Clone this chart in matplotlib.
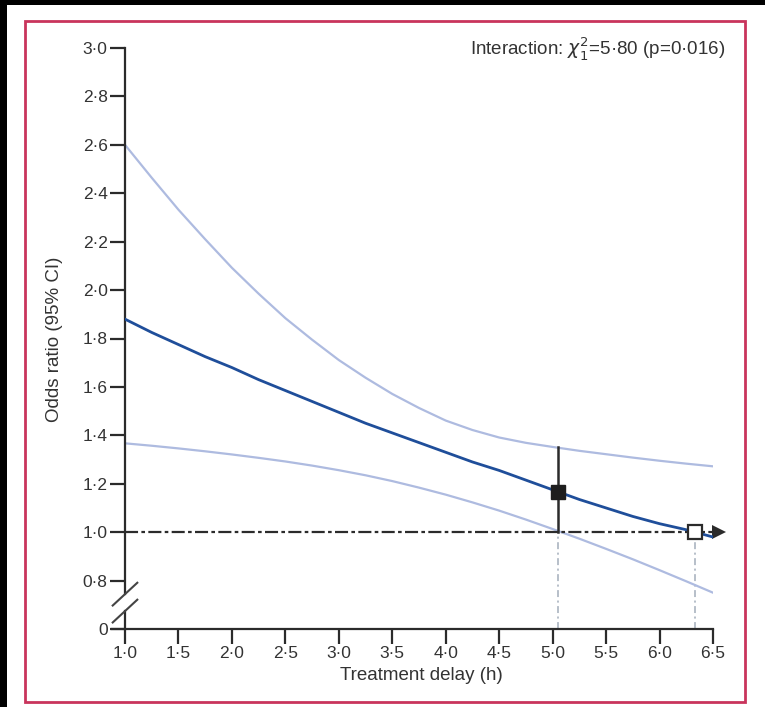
import matplotlib
matplotlib.use("Agg")
import matplotlib.pyplot as plt
import matplotlib.patches as patches

# ---------------------------------------------------------------
# Data (odds ratio vs treatment delay)
# ---------------------------------------------------------------
delay = [1.0, 1.25, 1.5, 1.75, 2.0, 2.25, 2.5, 2.75, 3.0, 3.25, 3.5, 3.75,
         4.0, 4.25, 4.5, 4.75, 5.0, 5.25, 5.5, 5.75, 6.0, 6.25, 6.5]
or_mid = [1.88, 1.825, 1.775, 1.725, 1.68, 1.63, 1.585, 1.54, 1.495, 1.45, 1.41, 1.37,
          1.33, 1.29, 1.255, 1.215, 1.175, 1.135, 1.10, 1.065, 1.035, 1.01, 0.98]
or_upper = [2.60, 2.464, 2.332, 2.21, 2.092, 1.985, 1.884, 1.795, 1.711, 1.638, 1.571, 1.513,
            1.461, 1.422, 1.391, 1.369, 1.352, 1.336, 1.322, 1.308, 1.295, 1.283, 1.272]
or_lower = [1.367, 1.357, 1.346, 1.334, 1.321, 1.307, 1.292, 1.275, 1.256, 1.235, 1.211, 1.184,
            1.155, 1.123, 1.089, 1.052, 1.013, 0.973, 0.931, 0.888, 0.843, 0.797, 0.75]

# estimate at the trial's median delay, and the point where OR crosses 1
point_x = 5.05
point_or = 1.165
point_ci = [1.0, 1.35]
cross_x = 6.33
cross_or = 1.0

# axis ticks ("0" sits where the broken axis resumes)
xticks = [1.0, 1.5, 2.0, 2.5, 3.0, 3.5, 4.0, 4.5, 5.0, 5.5, 6.0, 6.5]
xtick_labels = ["1·0", "1·5", "2·0", "2·5", "3·0", "3·5", "4·0", "4·5", "5·0", "5·5", "6·0", "6·5"]
yticks = [0.6, 0.8, 1.0, 1.2, 1.4, 1.6, 1.8, 2.0, 2.2, 2.4, 2.6, 2.8, 3.0]
ytick_labels = ["0", "0·8", "1·0", "1·2", "1·4", "1·6", "1·8", "2·0", "2·2", "2·4", "2·6", "2·8", "3·0"]

#############################
### SETTINGS
#############################
W, H = 765, 707
textColor = "#333333"
axisColor = "#2b2b2b"
ciColor = "#aebbe0"
midColor = "#1f4e9a"
borderColor = "#c9345c"
plt.rcParams["font.family"] = ["Liberation Sans", "DejaVu Sans"]
plt.rcParams["lines.scale_dashes"] = False

fig = plt.figure(figsize=(W / 100, H / 100), dpi=100)
fig.patch.set_facecolor("white")

# black strips on top and left, crimson frame
fig.patches.append(patches.Rectangle((0, 1 - 5 / H), 1, 5 / H, transform=fig.transFigure,
                                     facecolor="black", edgecolor="none", zorder=0))
fig.patches.append(patches.Rectangle((0, 0), 7 / W, 1, transform=fig.transFigure,
                                     facecolor="black", edgecolor="none", zorder=0))
fig.patches.append(patches.Rectangle((25 / W, (H - 702) / H), 720 / W, 681 / H,
                                     transform=fig.transFigure, facecolor="none",
                                     edgecolor=borderColor, linewidth=2.0, zorder=1))

# axes placed so that x 1.0..6.5 -> px 125..713 and y 0.6..3.0 -> px 629..48
ax = fig.add_axes([125 / W, (H - 629) / H, (713 - 125) / W, (629 - 48) / H])
ax.set_xlim(1.0, 6.5)
ax.set_ylim(0.6, 3.0)
ax.patch.set_alpha(0)
for s in ax.spines.values():
    s.set_visible(False)

# --- curves
ax.plot(delay, or_upper, color=ciColor, linewidth=1.6, zorder=2)
ax.plot(delay, or_lower, color=ciColor, linewidth=1.6, zorder=2)
ax.plot(delay, or_mid, color=midColor, linewidth=2.0, zorder=4)

# --- reference line OR = 1 with arrow head
ax.plot([1.0, 6.52], [1.0, 1.0], color=axisColor, linewidth=1.6,
        dashes=(9.4, 2.4, 2.6, 2.4), zorder=3, clip_on=False)
ax.plot([6.555], [1.0], marker=">", markersize=10, color=axisColor,
        markeredgewidth=0, zorder=3, clip_on=False)

# --- vertical guides down to the x axis
for gx in [point_x, cross_x]:
    ax.plot([gx, gx], [0.6, 1.0], color="#a3adbb", linewidth=1.1,
            dashes=(5, 2.5, 1.5, 2.5), zorder=1)

# --- estimate with CI, and crossing point
ax.plot([point_x, point_x], point_ci, color=axisColor, linewidth=1.8, zorder=5)
ax.plot([point_x], [point_or], marker="s", markersize=10, color="#1e1e1e", zorder=6)
ax.plot([cross_x], [cross_or], marker="s", markersize=10, markerfacecolor="white",
        markeredgecolor=axisColor, markeredgewidth=1.6, zorder=6, clip_on=False)

# --- hand drawn axes (with break on y)
ax.plot([0.88, 6.5], [0.6, 0.6], color=axisColor, linewidth=1.6, clip_on=False, zorder=3)
ax.plot([1.0, 1.0], [0.744, 3.0], color=axisColor, linewidth=1.6, clip_on=False, zorder=3)
ax.plot([1.0, 1.0], [0.6, 0.674], color=axisColor, linewidth=1.6, clip_on=False, zorder=3)
for yc in [0.744, 0.674]:
    ax.plot([0.885, 1.115], [yc - 0.047, yc + 0.047], color="#444444",
            linewidth=1.5, clip_on=False, zorder=3)

# --- ticks
ax.set_xticks(xticks)
ax.set_xticklabels(xtick_labels)
ax.set_yticks(yticks)
ax.set_yticklabels(ytick_labels)
ax.tick_params(axis="both", direction="out", length=11, width=1.6, color=axisColor,
               labelsize=12.5, labelcolor=textColor)
ax.tick_params(axis="x", pad=1)
ax.tick_params(axis="y", pad=1.5)

# --- labels
fig.text(421 / W, 1 - 676 / H, "Treatment delay (h)", ha="center", va="center",
         fontsize=13.5, color=textColor)
fig.text(55 / W, 1 - 339 / H, "Odds ratio (95% CI)", ha="center", va="center",
         rotation=90, fontsize=13.5, color=textColor)
fig.text(725 / W, 1 - 48 / H, r"Interaction: $\chi^2_1$=5·80 (p=0·016)", ha="right",
         va="center", fontsize=13.5, color=textColor)

plt.savefig("out.png", dpi=100)
